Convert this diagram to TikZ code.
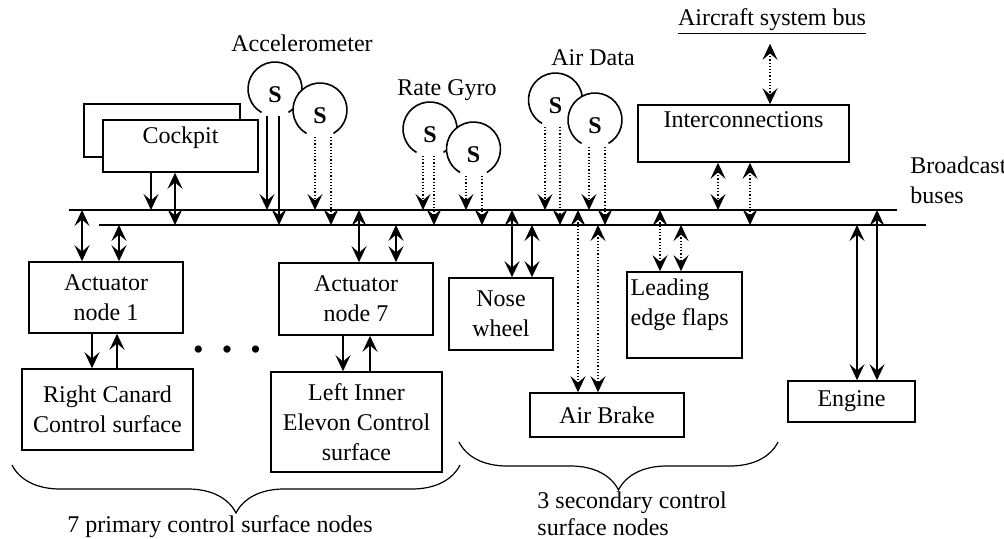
\documentclass[tikz,border=0pt]{standalone}
\usepackage{fontspec}
\setmainfont{Liberation Serif}
\usetikzlibrary{arrows.meta,decorations.pathreplacing}

\begin{document}
\begin{tikzpicture}[x=0.5pt,y=-0.5pt,line width=0.8pt,
    font=\fontsize{12}{15}\selectfont,
    box/.style={draw,rectangle,align=center,inner sep=2pt},
    sens/.style={circle,fill=white,minimum size=27pt,inner sep=0pt,
      font=\fontsize{12}{15}\selectfont\bfseries,text height=14pt,text depth=0pt},
    onehead/.style={-{Stealth[length=8pt,width=7.5pt,inset=3.2pt]}},
    twoheads/.style={{Stealth[length=8pt,width=7.5pt,inset=3.2pt]}-{Stealth[length=8pt,width=7.5pt,inset=3.2pt]}},
    dotline/.style={densely dotted,line width=0.6pt}]
    \useasboundingbox (0,0) rectangle (1004,539);

    % boxes
    \node[box,minimum width=78pt,minimum height=26.5pt] (CB) at (162,130.5) {};
    \node[box,fill=white,minimum width=77.5pt,minimum height=26pt,
      label={[anchor=north]north:Cockpit}] (CP) at (180.5,146) {};
    \node[box,minimum width=77pt,minimum height=35.5pt] (A1) at (106,297.5) {Actuator\\node 1};
    \node[box,minimum width=85.5pt,minimum height=40.5pt] (RC) at (107.5,409.5) {Right Canard\\Control surface};
    \node[box,minimum width=77pt,minimum height=36pt] (A7) at (356,299) {Actuator\\node 7};
    \node[box,minimum width=85.5pt,minimum height=50pt] (LI) at (356.5,422) {Left Inner\\Elevon Control\\surface};
    \node[box,minimum width=52pt,minimum height=36pt] (NW) at (501,314) {Nose\\wheel};
    \node[box,minimum width=77pt,minimum height=22pt] (AB) at (607,415) {Air Brake};
    \node[box,minimum width=57.5pt,minimum height=43pt,
      label={[anchor=north west,align=left,xshift=-1.5pt]north west:Leading\\edge flaps}] (LE) at (684.5,315) {};
    \node[box,minimum width=105.5pt,minimum height=28.5pt,
      label={[anchor=north]north:Interconnections}] (IC) at (743.5,133.5) {};
    \node[box,minimum width=63.5pt,minimum height=20.5pt] (EN) at (851.5,401.5) {Engine};

    % texts
    \node (ACL) at (302,43) {Accelerometer};
    \node (RGL) at (447,90) {Rate Gyro};
    \node (ADL) at (593,58) {Air Data};
    \node[inner sep=0pt] (ASB) at (772,22) {\underline{Aircraft system bus}};
    \node[align=left,anchor=west] (BBL) at (903,180) {Broadcast\\buses};
    \node[font=\fontsize{15}{15}\selectfont] (DOTS) at (227,353) {\textbullet\hspace{9pt}\textbullet\hspace{9pt}\textbullet};
    \node (PRI) at (220,527) {7 primary control surface nodes};
    \node[align=left,anchor=west,font=\fontsize{12}{13.5}\selectfont] (SEC) at (530,514) {3 secondary control\\surface nodes};

    % sensors
    \node[sens] (S1) at (275,89) {S};
    \draw (S1.center) ++(-60:13.5pt) arc[start angle=-60,end angle=240,radius=13.5pt];
    \node[sens] (S2) at (320,110) {S};
    \draw (S2.center) ++(-60:13.5pt) arc[start angle=-60,end angle=240,radius=13.5pt];
    \node[sens] (S3) at (430,129) {S};
    \draw (S3.center) ++(-60:13.5pt) arc[start angle=-60,end angle=240,radius=13.5pt];
    \node[sens] (S4) at (473.5,149) {S};
    \draw (S4.center) ++(-60:13.5pt) arc[start angle=-60,end angle=240,radius=13.5pt];
    \node[sens] (S5) at (555.5,100) {S};
    \draw (S5.center) ++(-60:13.5pt) arc[start angle=-60,end angle=240,radius=13.5pt];
    \node[sens] (S6) at (595,120) {S};
    \draw (S6.center) ++(-60:13.5pt) arc[start angle=-60,end angle=240,radius=13.5pt];

    % broadcast buses
    \coordinate (BA1) at (69,210);
    \coordinate (BA2) at (897,210);
    \coordinate (BB1) at (99,225);
    \coordinate (BB2) at (926,225);
    \draw (BA1) -- (BA2);
    \draw (BB1) -- (BB2);

    % cockpit
    \draw[onehead] ([xshift=-14.75pt]CP.south) -- ([xshift=-14.75pt]CP.south |- BA1);
    \draw[twoheads] ([xshift=-2.75pt]CP.south) -- ([xshift=-2.75pt]CP.south |- BB1);

    % sensors to buses
    \draw[onehead] ([xshift=-4pt,yshift=-13.5pt]S1.center) -- ([xshift=-4pt]S1.center |- BA1);
    \draw[onehead] ([xshift=2pt,yshift=-13.5pt]S1.center) -- ([xshift=2pt]S1.center |- BB1);
    \draw[onehead,dotline] ([xshift=-2.5pt,yshift=-13.5pt]S2.center) -- ([xshift=-2.5pt]S2.center |- BA1);
    \draw[onehead,dotline] ([xshift=5.5pt,yshift=-13.5pt]S2.center) -- ([xshift=5.5pt]S2.center |- BB1);
    \draw[onehead,dotline] ([xshift=-3.5pt,yshift=-13.5pt]S3.center) -- ([xshift=-3.5pt]S3.center |- BA1);
    \draw[onehead,dotline] ([xshift=2pt,yshift=-13.5pt]S3.center) -- ([xshift=2pt]S3.center |- BB1);
    \draw[onehead,dotline] ([xshift=-3.75pt,yshift=-13.5pt]S4.center) -- ([xshift=-3.75pt]S4.center |- BA1);
    \draw[onehead,dotline] ([xshift=4.25pt,yshift=-13.5pt]S4.center) -- ([xshift=4.25pt]S4.center |- BB1);
    \draw[onehead,dotline] ([xshift=-5.25pt,yshift=-13.5pt]S5.center) -- ([xshift=-5.25pt]S5.center |- BA1);
    \draw[onehead,dotline] ([xshift=2.25pt,yshift=-13.5pt]S5.center) -- ([xshift=2.25pt]S5.center |- BB1);
    \draw[onehead,dotline] ([xshift=-3pt,yshift=-13.5pt]S6.center) -- ([xshift=-3pt]S6.center |- BA1);
    \draw[onehead,dotline] ([xshift=5pt,yshift=-13.5pt]S6.center) -- ([xshift=5pt]S6.center |- BB1);

    % actuators
    \draw[twoheads] ([xshift=-12pt]A1.north |- BA1) -- ([xshift=-12pt]A1.north);
    \draw[twoheads] ([xshift=6.5pt]A1.north |- BB1) -- ([xshift=6.5pt]A1.north);
    \draw[onehead] ([xshift=-7pt]A1.south) -- ([xshift=-7pt]A1.south |- RC.north);
    \draw[onehead] ([xshift=5.5pt]A1.south |- RC.north) -- ([xshift=5.5pt]A1.south);
    \draw[twoheads] ([xshift=1.5pt]A7.north |- BA1) -- ([xshift=1.5pt]A7.north);
    \draw[twoheads] ([xshift=20pt]A7.north |- BB1) -- ([xshift=20pt]A7.north);
    \draw[onehead] ([xshift=-6.5pt]A7.south) -- ([xshift=-6.5pt]A7.south |- LI.north);
    \draw[onehead] ([xshift=7pt]A7.south |- LI.north) -- ([xshift=7pt]A7.south);

    % secondary surfaces
    \draw[twoheads] ([xshift=5.5pt]NW.north |- BA1) -- ([xshift=5.5pt]NW.north);
    \draw[twoheads] ([xshift=15.5pt]NW.north |- BB1) -- ([xshift=15.5pt]NW.north);
    \draw[twoheads,dotline] ([xshift=-14.5pt]AB.north |- BA1) -- ([xshift=-14.5pt]AB.north);
    \draw[twoheads,dotline] ([xshift=-4.5pt]AB.north |- BB1) -- ([xshift=-4.5pt]AB.north);
    \draw[twoheads,dotline] ([xshift=-12.25pt]LE.north |- BA1) -- ([xshift=-12.25pt]LE.north);
    \draw[twoheads,dotline] ([xshift=-1.75pt]LE.north |- BB1) -- ([xshift=-1.75pt]LE.north);

    % interconnections and engine
    \draw[twoheads,dotline] ([xshift=-12.75pt]IC.south) -- ([xshift=-12.75pt]IC.south |- BA1);
    \draw[twoheads,dotline] ([xshift=3.25pt]IC.south) -- ([xshift=3.25pt]IC.south |- BB1);
    \draw[twoheads,dotline,shorten <=4pt] ([xshift=13.25pt]IC.north |- ASB.south) -- ([xshift=13.25pt]IC.north);
    \draw[twoheads] ([xshift=2.75pt]EN.north |- BB1) -- ([xshift=2.75pt]EN.north);
    \draw[twoheads] ([xshift=12.75pt]EN.north |- BA1) -- ([xshift=12.75pt]EN.north);

    % groups
    \draw[line width=0.6pt,decorate,decoration={brace,mirror,amplitude=24pt}] (12,465) -- (460,465);
    \draw[line width=0.6pt,decorate,decoration={brace,mirror,amplitude=24pt}] (459,442) -- (778,442);
\end{tikzpicture}
\end{document}
